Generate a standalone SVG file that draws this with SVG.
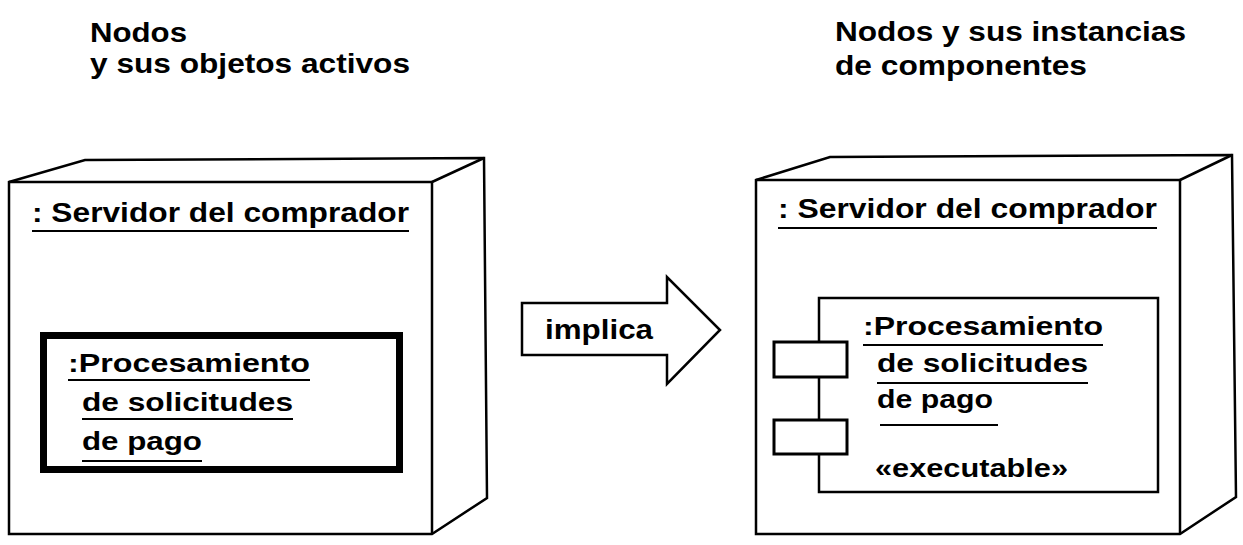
<svg xmlns="http://www.w3.org/2000/svg" width="1243" height="545" viewBox="0 0 1243 545">
<style>
text{font-family:"Liberation Sans",Arial,Helvetica,sans-serif;font-weight:bold;fill:#000}
.t{font-size:28px}
.h{font-size:27px}
.c{font-size:25px}
.edge{fill:#fff;stroke:#000;stroke-width:2.5;stroke-linejoin:miter}
.ln{fill:none;stroke:#000;stroke-width:2.5}
.ul{fill:none;stroke:#000;stroke-width:2}
</style>
<rect width="1243" height="545" fill="#fff"/>
<g id="titles">
<text class="t" x="90" y="42" textLength="97" lengthAdjust="spacingAndGlyphs">Nodos</text>
<text class="t" x="90" y="73" textLength="320" lengthAdjust="spacingAndGlyphs">y sus objetos activos</text>
<text class="t" x="835" y="41" textLength="351" lengthAdjust="spacingAndGlyphs">Nodos y sus instancias</text>
<text class="t" x="835" y="75" textLength="252" lengthAdjust="spacingAndGlyphs">de componentes</text>
</g>
<g id="node-left">
<polygon class="edge" points="9,182 85,160 484,158 487,498 432,534 9,534"/>
<polyline class="ln" points="9,182 432,182 432,534"/>
<line class="ln" x1="432" y1="182" x2="484" y2="158"/>
<text class="h" x="32" y="222" textLength="377" lengthAdjust="spacingAndGlyphs">: Servidor del comprador</text>
<line class="ul" x1="32" y1="231" x2="409" y2="231"/>
<g id="obj-left">
<rect x="43.5" y="335.5" width="356" height="134" fill="#fff" stroke="#000" stroke-width="7"/>
<text class="c" x="68" y="372" textLength="242" lengthAdjust="spacingAndGlyphs">:Procesamiento</text>
<line class="ul" x1="68" y1="380" x2="310" y2="380"/>
<text class="c" x="82" y="411" textLength="211" lengthAdjust="spacingAndGlyphs">de solicitudes</text>
<line class="ul" x1="82" y1="419" x2="293" y2="419"/>
<text class="c" x="82" y="450" textLength="120" lengthAdjust="spacingAndGlyphs">de pago</text>
<line class="ul" x1="82" y1="461" x2="202" y2="461"/>
</g>
</g>
<g id="connectors">
<g id="arrow-implica">
<polygon class="edge" points="522,303 667,303 667,277 720,330 667,384 667,355 522,355"/>
<text class="t" x="545" y="339" textLength="108" lengthAdjust="spacingAndGlyphs">implica</text>
</g>
</g>
<g id="node-right">
<polygon class="edge" points="756,180 830,157 1232,155 1236,497 1180,534 756,534"/>
<polyline class="ln" points="756,180 1180,180 1180,534"/>
<line class="ln" x1="1180" y1="180" x2="1232" y2="155"/>
<text class="h" x="778" y="218" textLength="379" lengthAdjust="spacingAndGlyphs">: Servidor del comprador</text>
<line class="ul" x1="778" y1="228" x2="1157" y2="228"/>
<g id="component-right">
<rect x="819" y="298" width="339" height="194" fill="#fff" stroke="#000" stroke-width="2.5"/>
<rect x="774" y="342" width="73" height="35" fill="#fff" stroke="#000" stroke-width="3"/>
<rect x="774" y="420" width="73" height="34" fill="#fff" stroke="#000" stroke-width="3"/>
<text class="c" x="863" y="335" textLength="240" lengthAdjust="spacingAndGlyphs">:Procesamiento</text>
<line class="ul" x1="863" y1="345" x2="1103" y2="345"/>
<text class="c" x="877" y="372" textLength="211" lengthAdjust="spacingAndGlyphs">de solicitudes</text>
<line class="ul" x1="877" y1="383" x2="1088" y2="383"/>
<text class="c" x="877" y="408" textLength="116" lengthAdjust="spacingAndGlyphs">de pago</text>
<line class="ul" x1="880" y1="425" x2="998" y2="425"/>
<text class="c" x="875" y="477" textLength="193" lengthAdjust="spacingAndGlyphs">«executable»</text>
</g>
</g>
</svg>
